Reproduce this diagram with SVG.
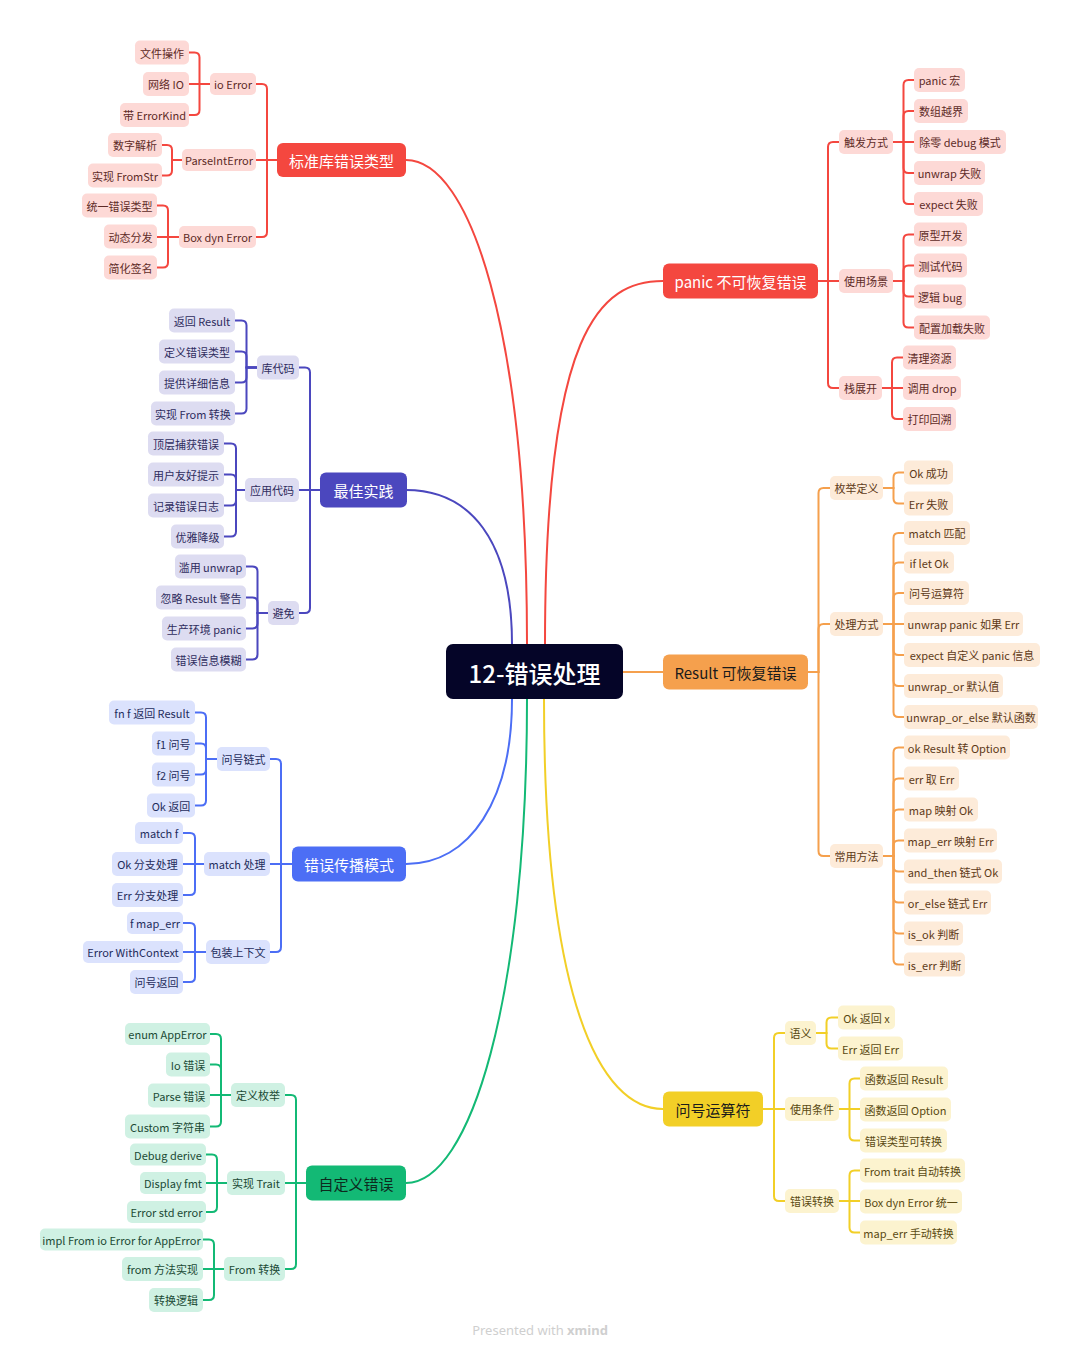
<svg xmlns="http://www.w3.org/2000/svg" width="1080" height="1353" viewBox="0 0 1080 1353">
<style>
.n text{font-family:"Noto Sans CJK SC","Noto Sans",sans-serif;font-size:11px;text-anchor:middle;dominant-baseline:central}
.n rect{rx:5px}
.m text{font-size:15px}
.m rect{rx:6px}
.r rect{fill:#fdd9d6}.r text{fill:#5e2b27}
.p rect{fill:#dddcf1}.p text{fill:#2f2c5e}
.b rect{fill:#dbe2fd}.b text{fill:#1f2d5c}
.g rect{fill:#cff1e3}.g text{fill:#1b4a35}
.o rect{fill:#fdebd9}.o text{fill:#5e3a18}
.y rect{fill:#fcf3cf}.y text{fill:#5a4a12}
.m.r rect{fill:#f4473f}.m.r text{fill:#fff}
.m.p rect{fill:#4b47be}.m.p text{fill:#fff}
.m.b rect{fill:#4c6ef5}.m.b text{fill:#fff}
.m.g rect{fill:#13b975}.m.g text{fill:#0d2b1e}
.m.o rect{fill:#f5a04d}.m.o text{fill:#1b1b1b}
.m.y rect{fill:#f2cf27}.m.y text{fill:#1b1b1b}
#connectors path{fill:none;stroke-width:2;stroke-linecap:round}
.cr path{stroke:#f4473f}.cp path{stroke:#4b47be}.cb path{stroke:#4c6ef5}
.cg path{stroke:#13b975}.co path{stroke:#f5a04d}.cy path{stroke:#f2cf27}
</style>
<rect width="1080" height="1353" fill="#fff"/>
<g id="connectors">
<g class="cr">
<path d="M527,644 C527,330 470,160 406,160"/>
<path d="M277,160H267V89Q267,84 262,84H256"/>
<path d="M277,160H256"/>
<path d="M277,160H267V232Q267,237 262,237H256"/>
<path d="M210,84H199.5V57.5Q199.5,52.5 194.5,52.5H189"/>
<path d="M210,84H189"/>
<path d="M210,84H199.5V110Q199.5,115 194.5,115H189"/>
<path d="M182,160H172V150Q172,145 167,145H162"/>
<path d="M182,160H172V170.5Q172,175.5 167,175.5H162"/>
<path d="M179,237H168V210.5Q168,205.5 163,205.5H157"/>
<path d="M179,237H157"/>
<path d="M179,237H168V262.5Q168,267.5 163,267.5H157"/>
<path d="M545,644 C545,330 600,281 663,281"/>
<path d="M818,281H828V147Q828,142 833,142H839"/>
<path d="M818,281H839"/>
<path d="M818,281H828V383Q828,388 833,388H839"/>
<path d="M893,142H903.5V85Q903.5,80 908.5,80H914"/>
<path d="M893,142H903.5V116Q903.5,111 908.5,111H914"/>
<path d="M893,142H914"/>
<path d="M893,142H903.5V168Q903.5,173 908.5,173H914"/>
<path d="M893,142H903.5V199Q903.5,204 908.5,204H914"/>
<path d="M893,281H903.5V239.5Q903.5,234.5 908.5,234.5H914"/>
<path d="M893,281H903.5V270.5Q903.5,265.5 908.5,265.5H914"/>
<path d="M893,281H903.5V291.5Q903.5,296.5 908.5,296.5H914"/>
<path d="M893,281H903.5V322.5Q903.5,327.5 908.5,327.5H914"/>
<path d="M882,388H892V362.5Q892,357.5 897,357.5H903"/>
<path d="M882,388H903"/>
<path d="M882,388H892V414Q892,419 897,419H903"/>
</g>
<g class="cp">
<path d="M512,644 C512,540 470,490 406,490"/>
<path d="M320,490H310V372.5Q310,367.5 305,367.5H299"/>
<path d="M320,490H299"/>
<path d="M320,490H310V608Q310,613 305,613H299"/>
<path d="M257,367.5H246.5V325.5Q246.5,320.5 241.5,320.5H235"/>
<path d="M257,367.5H246.5V356.5Q246.5,351.5 241.5,351.5H235"/>
<path d="M257,367.5H246.5V377.5Q246.5,382.5 241.5,382.5H235"/>
<path d="M257,367.5H246.5V408.5Q246.5,413.5 241.5,413.5H235"/>
<path d="M245,490H236V448.5Q236,443.5 231,443.5H224"/>
<path d="M245,490H236V479.5Q236,474.5 231,474.5H224"/>
<path d="M245,490H236V500.5Q236,505.5 231,505.5H224"/>
<path d="M245,490H236V531.5Q236,536.5 231,536.5H224"/>
<path d="M268,613H257.5V571.5Q257.5,566.5 252.5,566.5H246"/>
<path d="M268,613H257.5V602.5Q257.5,597.5 252.5,597.5H246"/>
<path d="M268,613H257.5V623.5Q257.5,628.5 252.5,628.5H246"/>
<path d="M268,613H257.5V654.5Q257.5,659.5 252.5,659.5H246"/>
</g>
<g class="cb">
<path d="M512,699 C512,800 470,864 406,864"/>
<path d="M292,864H281V764Q281,759 276,759H270"/>
<path d="M292,864H270"/>
<path d="M292,864H281V947Q281,952 276,952H270"/>
<path d="M217,759H206V717.5Q206,712.5 201,712.5H195"/>
<path d="M217,759H206V748.5Q206,743.5 201,743.5H195"/>
<path d="M217,759H206V769.5Q206,774.5 201,774.5H195"/>
<path d="M217,759H206V800.5Q206,805.5 201,805.5H195"/>
<path d="M204,864H195V838Q195,833 190,833H183"/>
<path d="M204,864H183"/>
<path d="M204,864H195V890Q195,895 190,895H183"/>
<path d="M206,952H195V928Q195,923 190,923H183"/>
<path d="M206,952H183"/>
<path d="M206,952H195V977Q195,982 190,982H183"/>
</g>
<g class="cg">
<path d="M527,699 C527,1000 470,1183 406,1183"/>
<path d="M306,1183H296V1100Q296,1095 291,1095H285"/>
<path d="M306,1183H285"/>
<path d="M306,1183H296V1264Q296,1269 291,1269H285"/>
<path d="M231,1095H221V1039Q221,1034 216,1034H210"/>
<path d="M231,1095H221V1069.5Q221,1064.5 216,1064.5H210"/>
<path d="M231,1095H210"/>
<path d="M231,1095H221V1121.5Q221,1126.5 216,1126.5H210"/>
<path d="M227,1183H217V1159.5Q217,1154.5 212,1154.5H206"/>
<path d="M227,1183H206"/>
<path d="M227,1183H217V1207Q217,1212 212,1212H206"/>
<path d="M224,1269H214V1244.5Q214,1239.5 209,1239.5H203"/>
<path d="M224,1269H203"/>
<path d="M224,1269H214V1295Q214,1300 209,1300H203"/>
</g>
<g class="co">
<path d="M623,672H663"/>
<path d="M808,672H818.5V493Q818.5,488 823.5,488H830"/>
<path d="M808,672H818.5V629Q818.5,624 823.5,624H830"/>
<path d="M808,672H818.5V851Q818.5,856 823.5,856H830"/>
<path d="M883,488H893.5V477.5Q893.5,472.5 898.5,472.5H904"/>
<path d="M883,488H893.5V498.5Q893.5,503.5 898.5,503.5H904"/>
<path d="M883,624H893.5V538Q893.5,533 898.5,533H904"/>
<path d="M883,624H893.5V567.5Q893.5,562.5 898.5,562.5H904"/>
<path d="M883,624H893.5V598Q893.5,593 898.5,593H904"/>
<path d="M883,624H904"/>
<path d="M883,624H893.5V650Q893.5,655 898.5,655H904"/>
<path d="M883,624H893.5V681Q893.5,686 898.5,686H904"/>
<path d="M883,624H893.5V712Q893.5,717 898.5,717H904"/>
<path d="M883,856H893.5V752.5Q893.5,747.5 898.5,747.5H904"/>
<path d="M883,856H893.5V783.5Q893.5,778.5 898.5,778.5H904"/>
<path d="M883,856H893.5V814.5Q893.5,809.5 898.5,809.5H904"/>
<path d="M883,856H893.5V845.5Q893.5,840.5 898.5,840.5H904"/>
<path d="M883,856H893.5V866.5Q893.5,871.5 898.5,871.5H904"/>
<path d="M883,856H893.5V897.5Q893.5,902.5 898.5,902.5H904"/>
<path d="M883,856H893.5V928.5Q893.5,933.5 898.5,933.5H904"/>
<path d="M883,856H893.5V959.5Q893.5,964.5 898.5,964.5H904"/>
</g>
<g class="cy">
<path d="M544,699 C544,1000 600,1109 663,1109"/>
<path d="M763,1109H774V1038Q774,1033 779,1033H785"/>
<path d="M763,1109H785"/>
<path d="M763,1109H774V1196Q774,1201 779,1201H785"/>
<path d="M816,1033H826.5V1022.5Q826.5,1017.5 831.5,1017.5H838"/>
<path d="M816,1033H826.5V1043.5Q826.5,1048.5 831.5,1048.5H838"/>
<path d="M839,1109H849.5V1083.5Q849.5,1078.5 854.5,1078.5H860"/>
<path d="M839,1109H860"/>
<path d="M839,1109H849.5V1135.5Q849.5,1140.5 854.5,1140.5H860"/>
<path d="M839,1201H849.5V1175.5Q849.5,1170.5 854.5,1170.5H860"/>
<path d="M839,1201H860"/>
<path d="M839,1201H849.5V1227.5Q849.5,1232.5 854.5,1232.5H860"/>
</g>
</g>

<g id="root"><rect x="446" y="644" width="177" height="55" rx="7" fill="#050528"/><text x="534.5" y="672" font-family="'Noto Sans CJK SC','Noto Sans',sans-serif" font-size="24" font-weight="500" fill="#fff" text-anchor="middle" dominant-baseline="central">12-错误处理</text></g>

<g id="std-errors" class="n m r"><rect x="277" y="143" width="129" height="34"/><text x="341.5" y="160">标准库错误类型</text></g>
<g id="io-error" class="n r"><rect x="210" y="73" width="46" height="22"/><text x="233" y="84">io Error</text></g>
<g id="parseint" class="n r"><rect x="182" y="149" width="74" height="22"/><text x="219" y="160">ParseIntError</text></g>
<g id="boxdyn" class="n r"><rect x="179" y="226" width="77" height="22"/><text x="217.5" y="237">Box dyn Error</text></g>
<g id="file-op" class="n r"><rect x="135" y="40.5" width="54" height="24"/><text x="162" y="52.5">文件操作</text></g>
<g id="net-io" class="n r"><rect x="143" y="72" width="46" height="24"/><text x="166" y="84">网络 IO</text></g>
<g id="errkind" class="n r"><rect x="120" y="103" width="69" height="24"/><text x="154.5" y="115">带 ErrorKind</text></g>
<g id="num-parse" class="n r"><rect x="108" y="133" width="54" height="24"/><text x="135" y="145">数字解析</text></g>
<g id="fromstr" class="n r"><rect x="88" y="163.5" width="74" height="24"/><text x="125" y="175.5">实现 FromStr</text></g>
<g id="unify" class="n r"><rect x="82" y="193.5" width="75" height="24"/><text x="119.5" y="205.5">统一错误类型</text></g>
<g id="dyn-dispatch" class="n r"><rect x="104" y="224.5" width="53" height="24"/><text x="130.5" y="236.5">动态分发</text></g>
<g id="simplify" class="n r"><rect x="104" y="255.5" width="53" height="24"/><text x="130.5" y="267.5">简化签名</text></g>

<g id="best" class="n m p"><rect x="320" y="472.5" width="87" height="35"/><text x="363.5" y="490">最佳实践</text></g>
<g id="lib-code" class="n p"><rect x="257" y="355.5" width="42" height="24"/><text x="278" y="367.5">库代码</text></g>
<g id="app-code" class="n p"><rect x="245" y="478" width="54" height="24"/><text x="272" y="490">应用代码</text></g>
<g id="avoid" class="n p"><rect x="268" y="601" width="31" height="24"/><text x="283.5" y="613">避免</text></g>
<g id="ret-result" class="n p"><rect x="169" y="308.5" width="66" height="24"/><text x="202" y="320.5">返回 Result</text></g>
<g id="def-type" class="n p"><rect x="159" y="339.5" width="76" height="24"/><text x="197" y="351.5">定义错误类型</text></g>
<g id="detail" class="n p"><rect x="159" y="370.5" width="76" height="24"/><text x="197" y="382.5">提供详细信息</text></g>
<g id="impl-from" class="n p"><rect x="151" y="401.5" width="84" height="24"/><text x="193" y="413.5">实现 From 转换</text></g>
<g id="top-catch" class="n p"><rect x="148" y="431.5" width="76" height="24"/><text x="186" y="443.5">顶层捕获错误</text></g>
<g id="friendly" class="n p"><rect x="148" y="462.5" width="76" height="24"/><text x="186" y="474.5">用户友好提示</text></g>
<g id="log" class="n p"><rect x="148" y="493.5" width="76" height="24"/><text x="186" y="505.5">记录错误日志</text></g>
<g id="degrade" class="n p"><rect x="171" y="524.5" width="53" height="24"/><text x="197.5" y="536.5">优雅降级</text></g>
<g id="abuse" class="n p"><rect x="175" y="554.5" width="71" height="24"/><text x="210.5" y="566.5">滥用 unwrap</text></g>
<g id="ignore" class="n p"><rect x="156" y="585.5" width="90" height="24"/><text x="201" y="597.5">忽略 Result 警告</text></g>
<g id="prod-panic" class="n p"><rect x="162" y="616.5" width="84" height="24"/><text x="204" y="628.5">生产环境 panic</text></g>
<g id="vague" class="n p"><rect x="171" y="647.5" width="75" height="24"/><text x="208.5" y="659.5">错误信息模糊</text></g>

<g id="propagation" class="n m b"><rect x="292" y="846.5" width="114" height="35"/><text x="349" y="864">错误传播模式</text></g>
<g id="q-chain" class="n b"><rect x="217" y="747" width="53" height="24"/><text x="243.5" y="759">问号链式</text></g>
<g id="match-handle" class="n b"><rect x="204" y="852" width="66" height="24"/><text x="237" y="864">match 处理</text></g>
<g id="wrap-ctx" class="n b"><rect x="206" y="940" width="64" height="24"/><text x="238" y="952">包装上下文</text></g>
<g id="fnf" class="n b"><rect x="109" y="700.5" width="86" height="24"/><text x="152" y="712.5">fn f 返回 Result</text></g>
<g id="f1q" class="n b"><rect x="152" y="731.5" width="43" height="24"/><text x="173.5" y="743.5">f1 问号</text></g>
<g id="f2q" class="n b"><rect x="152" y="762.5" width="43" height="24"/><text x="173.5" y="774.5">f2 问号</text></g>
<g id="ok-ret" class="n b"><rect x="147" y="793.5" width="48" height="24"/><text x="171" y="805.5">Ok 返回</text></g>
<g id="match-f" class="n b"><rect x="135" y="822" width="48" height="22"/><text x="159" y="833">match f</text></g>
<g id="ok-branch" class="n b"><rect x="112" y="852" width="71" height="24"/><text x="147.5" y="864">Ok 分支处理</text></g>
<g id="err-branch" class="n b"><rect x="112" y="883" width="71" height="24"/><text x="147.5" y="895">Err 分支处理</text></g>
<g id="f-maperr" class="n b"><rect x="127" y="912" width="56" height="22"/><text x="155" y="923">f map_err</text></g>
<g id="withctx" class="n b"><rect x="83" y="941" width="100" height="22"/><text x="133" y="952">Error WithContext</text></g>
<g id="q-ret" class="n b"><rect x="130" y="970" width="53" height="24"/><text x="156.5" y="982">问号返回</text></g>

<g id="custom" class="n m g"><rect x="306" y="1165.5" width="100" height="35"/><text x="356" y="1183">自定义错误</text></g>
<g id="def-enum" class="n g"><rect x="231" y="1083" width="54" height="24"/><text x="258" y="1095">定义枚举</text></g>
<g id="impl-trait" class="n g"><rect x="227" y="1171" width="58" height="24"/><text x="256" y="1183">实现 Trait</text></g>
<g id="from-conv" class="n g"><rect x="224" y="1257" width="61" height="24"/><text x="254.5" y="1269">From 转换</text></g>
<g id="enum-app" class="n g"><rect x="125" y="1023" width="85" height="22"/><text x="167.5" y="1034">enum AppError</text></g>
<g id="io-err" class="n g"><rect x="166" y="1052.5" width="44" height="24"/><text x="188" y="1064.5">Io 错误</text></g>
<g id="parse-err" class="n g"><rect x="148" y="1083.5" width="62" height="24"/><text x="179" y="1095.5">Parse 错误</text></g>
<g id="custom-str" class="n g"><rect x="125" y="1114.5" width="85" height="24"/><text x="167.5" y="1126.5">Custom 字符串</text></g>
<g id="debug" class="n g"><rect x="130" y="1143.5" width="76" height="22"/><text x="168" y="1154.5">Debug derive</text></g>
<g id="display" class="n g"><rect x="140" y="1172" width="66" height="22"/><text x="173" y="1183">Display fmt</text></g>
<g id="std-error" class="n g"><rect x="127" y="1201" width="79" height="22"/><text x="166.5" y="1212">Error std error</text></g>
<g id="impl-from-io" class="n g"><rect x="40" y="1228.5" width="163" height="22"/><text x="121.5" y="1239.5">impl From io Error for AppError</text></g>
<g id="from-method" class="n g"><rect x="122" y="1257" width="81" height="24"/><text x="162.5" y="1269">from 方法实现</text></g>
<g id="conv-logic" class="n g"><rect x="149" y="1288" width="54" height="24"/><text x="176" y="1300">转换逻辑</text></g>

<g id="panic" class="n m r"><rect x="663" y="263.5" width="155" height="35"/><text x="740.5" y="281">panic 不可恢复错误</text></g>
<g id="trigger" class="n r"><rect x="839" y="130" width="54" height="24"/><text x="866" y="142">触发方式</text></g>
<g id="usage" class="n r"><rect x="839" y="269" width="54" height="24"/><text x="866" y="281">使用场景</text></g>
<g id="unwind" class="n r"><rect x="839" y="376" width="43" height="24"/><text x="860.5" y="388">栈展开</text></g>
<g id="panic-macro" class="n r"><rect x="914" y="68" width="51" height="24"/><text x="939.5" y="80">panic 宏</text></g>
<g id="oob" class="n r"><rect x="914" y="99" width="54" height="24"/><text x="941" y="111">数组越界</text></g>
<g id="divzero" class="n r"><rect x="914" y="130" width="92" height="24"/><text x="960" y="142">除零 debug 模式</text></g>
<g id="unwrap-fail" class="n r"><rect x="914" y="161" width="71" height="24"/><text x="949.5" y="173">unwrap 失败</text></g>
<g id="expect-fail" class="n r"><rect x="914" y="192" width="69" height="24"/><text x="948.5" y="204">expect 失败</text></g>
<g id="proto" class="n r"><rect x="914" y="222.5" width="53" height="24"/><text x="940.5" y="234.5">原型开发</text></g>
<g id="test-code" class="n r"><rect x="914" y="253.5" width="53" height="24"/><text x="940.5" y="265.5">测试代码</text></g>
<g id="logic-bug" class="n r"><rect x="914" y="284.5" width="52" height="24"/><text x="940" y="296.5">逻辑 bug</text></g>
<g id="config" class="n r"><rect x="914" y="315.5" width="76" height="24"/><text x="952" y="327.5">配置加载失败</text></g>
<g id="cleanup" class="n r"><rect x="903" y="345.5" width="53" height="24"/><text x="929.5" y="357.5">清理资源</text></g>
<g id="drop" class="n r"><rect x="903" y="376" width="58" height="24"/><text x="932" y="388">调用 drop</text></g>
<g id="backtrace" class="n r"><rect x="903" y="407" width="53" height="24"/><text x="929.5" y="419">打印回溯</text></g>

<g id="result" class="n m o"><rect x="663" y="654.5" width="145" height="35"/><text x="735.5" y="672">Result 可恢复错误</text></g>
<g id="enum-def" class="n o"><rect x="830" y="476" width="53" height="24"/><text x="856.5" y="488">枚举定义</text></g>
<g id="handling" class="n o"><rect x="830" y="612" width="53" height="24"/><text x="856.5" y="624">处理方式</text></g>
<g id="methods" class="n o"><rect x="830" y="844" width="53" height="24"/><text x="856.5" y="856">常用方法</text></g>
<g id="ok-success" class="n o"><rect x="904" y="460.5" width="49" height="24"/><text x="928.5" y="472.5">Ok 成功</text></g>
<g id="err-fail" class="n o"><rect x="904" y="491.5" width="49" height="24"/><text x="928.5" y="503.5">Err 失败</text></g>
<g id="match-m" class="n o"><rect x="904" y="521" width="66" height="24"/><text x="937" y="533">match 匹配</text></g>
<g id="iflet" class="n o"><rect x="904" y="551.5" width="50" height="22"/><text x="929" y="562.5">if let Ok</text></g>
<g id="qop" class="n o"><rect x="904" y="581" width="65" height="24"/><text x="936.5" y="593">问号运算符</text></g>
<g id="unwrap-p" class="n o"><rect x="904" y="612" width="119" height="24"/><text x="963.5" y="624">unwrap panic 如果 Err</text></g>
<g id="expect-c" class="n o"><rect x="904" y="643" width="136" height="24"/><text x="972" y="655">expect 自定义 panic 信息</text></g>
<g id="unwrap-or" class="n o"><rect x="904" y="674" width="99" height="24"/><text x="953.5" y="686">unwrap_or 默认值</text></g>
<g id="unwrap-or-else" class="n o"><rect x="904" y="705" width="134" height="24"/><text x="971" y="717">unwrap_or_else 默认函数</text></g>
<g id="ok-m" class="n o"><rect x="904" y="735.5" width="106" height="24"/><text x="957" y="747.5">ok Result 转 Option</text></g>
<g id="err-m" class="n o"><rect x="904" y="766.5" width="55" height="24"/><text x="931.5" y="778.5">err 取 Err</text></g>
<g id="map-m" class="n o"><rect x="904" y="797.5" width="74" height="24"/><text x="941" y="809.5">map 映射 Ok</text></g>
<g id="maperr-m" class="n o"><rect x="904" y="828.5" width="93" height="24"/><text x="950.5" y="840.5">map_err 映射 Err</text></g>
<g id="andthen" class="n o"><rect x="904" y="859.5" width="98" height="24"/><text x="953" y="871.5">and_then 链式 Ok</text></g>
<g id="orelse" class="n o"><rect x="904" y="890.5" width="87" height="24"/><text x="947.5" y="902.5">or_else 链式 Err</text></g>
<g id="isok" class="n o"><rect x="904" y="921.5" width="59" height="24"/><text x="933.5" y="933.5">is_ok 判断</text></g>
<g id="iserr" class="n o"><rect x="904" y="952.5" width="61" height="24"/><text x="934.5" y="964.5">is_err 判断</text></g>

<g id="question" class="n m y"><rect x="663" y="1091.5" width="100" height="35"/><text x="713" y="1109">问号运算符</text></g>
<g id="semantics" class="n y"><rect x="785" y="1021" width="31" height="24"/><text x="800.5" y="1033">语义</text></g>
<g id="conditions" class="n y"><rect x="785" y="1097" width="54" height="24"/><text x="812" y="1109">使用条件</text></g>
<g id="err-conv" class="n y"><rect x="785" y="1189" width="54" height="24"/><text x="812" y="1201">错误转换</text></g>
<g id="ok-ret-x" class="n y"><rect x="838" y="1005.5" width="57" height="24"/><text x="866.5" y="1017.5">Ok 返回 x</text></g>
<g id="err-ret-err" class="n y"><rect x="838" y="1036.5" width="65" height="24"/><text x="870.5" y="1048.5">Err 返回 Err</text></g>
<g id="fn-result" class="n y"><rect x="860" y="1066.5" width="88" height="24"/><text x="904" y="1078.5">函数返回 Result</text></g>
<g id="fn-option" class="n y"><rect x="860" y="1097.5" width="91" height="24"/><text x="905.5" y="1109.5">函数返回 Option</text></g>
<g id="convertible" class="n y"><rect x="860" y="1128.5" width="87" height="24"/><text x="903.5" y="1140.5">错误类型可转换</text></g>
<g id="from-trait" class="n y"><rect x="860" y="1158.5" width="105" height="24"/><text x="912.5" y="1170.5">From trait 自动转换</text></g>
<g id="box-unify" class="n y"><rect x="860" y="1189.5" width="102" height="24"/><text x="911" y="1201.5">Box dyn Error 统一</text></g>
<g id="maperr-manual" class="n y"><rect x="860" y="1220.5" width="97" height="24"/><text x="908.5" y="1232.5">map_err 手动转换</text></g>

<text x="540" y="1330" font-family="'Noto Sans','Liberation Sans',sans-serif" font-size="13" fill="#cfcfcf" text-anchor="middle" dominant-baseline="central">Presented with <tspan font-weight="bold">xmind</tspan></text>
</svg>
